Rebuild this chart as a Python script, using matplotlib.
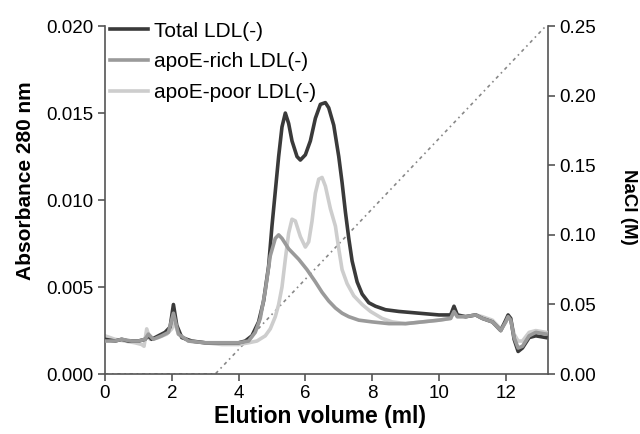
import matplotlib
matplotlib.use("Agg")
import matplotlib.pyplot as plt

# ---- data ----
total_x = [0, 0.3, 0.5, 0.7, 1.0, 1.2, 1.3, 1.4, 1.6, 1.8, 1.95, 2.05, 2.15, 2.3, 2.6, 3.0, 3.5, 4.0, 4.2, 4.4, 4.6,
           4.75, 4.9, 5.0, 5.1, 5.2, 5.3, 5.4, 5.5, 5.6, 5.75, 5.85, 6.0, 6.15, 6.3, 6.45, 6.6, 6.7, 6.85, 7.0, 7.1,
           7.2, 7.3, 7.4, 7.55, 7.7, 7.9, 8.1, 8.4, 8.8, 9.4, 10.0, 10.35, 10.45, 10.55, 10.8, 11.1, 11.3, 11.6,
           11.85, 12.0, 12.07, 12.15, 12.25, 12.37, 12.5, 12.7, 12.9, 13.2]
total_y = [0.0020, 0.0019, 0.0020, 0.0019, 0.0019, 0.0020, 0.0022, 0.0020, 0.0022, 0.0024, 0.0027, 0.0040, 0.0028,
           0.0021, 0.0019, 0.0018, 0.0018, 0.0018, 0.0019, 0.0022, 0.0030, 0.0042, 0.0062, 0.0085, 0.0105, 0.0125,
           0.0142, 0.0150, 0.0144, 0.0134, 0.0125, 0.0123, 0.0126, 0.0134, 0.0147, 0.0155, 0.0156, 0.0153, 0.0143,
           0.0125, 0.0110, 0.0093, 0.0078, 0.0065, 0.0053, 0.0046, 0.0041, 0.0039, 0.0037, 0.0036, 0.0035, 0.0034,
           0.0034, 0.0039, 0.0034, 0.0033, 0.0034, 0.0032, 0.0030, 0.0025, 0.0031, 0.0034, 0.0032, 0.0020, 0.0013,
           0.0015, 0.0021, 0.0022, 0.0021]

rich_x = [0, 0.3, 0.5, 0.8, 1.0, 1.2, 1.3, 1.45, 1.7, 1.9, 2.05, 2.2, 2.5, 3.0, 3.5, 4.0, 4.3, 4.5, 4.65, 4.8, 4.95,
          5.1, 5.2, 5.3, 5.5, 5.8, 6.05, 6.3, 6.5, 6.7, 6.9, 7.1, 7.3, 7.6, 8.0, 8.5, 9.0, 9.5, 10.0, 10.35, 10.45,
          10.55, 10.8, 11.1, 11.3, 11.6, 11.85, 12.0, 12.07, 12.15, 12.25, 12.37, 12.5, 12.7, 12.9, 13.2]
rich_y = [0.0019, 0.0019, 0.0020, 0.0019, 0.0019, 0.0020, 0.0023, 0.0020, 0.0022, 0.0024, 0.0035, 0.0023, 0.0019,
          0.0018, 0.0018, 0.0018, 0.0019, 0.0024, 0.0032, 0.0048, 0.0068, 0.0078, 0.0080, 0.0078, 0.0072, 0.0066,
          0.0060, 0.0053, 0.0047, 0.0042, 0.0038, 0.0035, 0.0033, 0.0031, 0.0030, 0.0029, 0.0029, 0.0030, 0.0031,
          0.0032, 0.0036, 0.0033, 0.0033, 0.0034, 0.0032, 0.0030, 0.0025, 0.0030, 0.0033, 0.0031, 0.0021, 0.0015,
          0.0016, 0.0022, 0.0024, 0.0023]

poor_x = [0, 0.3, 0.6, 0.9, 1.1, 1.17, 1.25, 1.35, 1.6, 1.85, 2.0, 2.08, 2.2, 2.5, 3.0, 3.5, 4.0, 4.3, 4.55, 4.8,
          4.95, 5.1, 5.2, 5.3, 5.4, 5.5, 5.6, 5.7, 5.85, 6.0, 6.1, 6.2, 6.3, 6.4, 6.5, 6.6, 6.75, 6.9, 7.0, 7.1,
          7.25, 7.45, 7.7, 7.95, 8.3, 8.6, 9.0, 9.5, 10.0, 10.35, 10.45, 10.55, 10.8, 11.1, 11.3, 11.6, 11.85, 12.0,
          12.07, 12.15, 12.25, 12.37, 12.5, 12.7, 12.9, 13.2]
poor_y = [0.0022, 0.0020, 0.0019, 0.0018, 0.0017, 0.0016, 0.0026, 0.0020, 0.0021, 0.0023, 0.0026, 0.0030, 0.0023,
          0.0019, 0.0018, 0.0017, 0.0017, 0.0018, 0.0019, 0.0022, 0.0026, 0.0033, 0.0040, 0.0050, 0.0066, 0.0081,
          0.0089, 0.0088, 0.0079, 0.0073, 0.0076, 0.0088, 0.0104, 0.0112, 0.0113, 0.0108, 0.0095, 0.0085, 0.0072,
          0.0060, 0.0052, 0.0045, 0.0040, 0.0036, 0.0032, 0.0030, 0.0029, 0.0030, 0.0031, 0.0032, 0.0036, 0.0033,
          0.0033, 0.0034, 0.0033, 0.0031, 0.0026, 0.0030, 0.0033, 0.0031, 0.0023, 0.0019, 0.0019, 0.0024, 0.0025,
          0.0024]

nacl_x = [0, 3.3, 13.2]
nacl_y = [0, 0, 0.25]

labels = ["Total LDL(-)", "apoE-rich LDL(-)", "apoE-poor LDL(-)"]
left_ticks = [0.000, 0.005, 0.010, 0.015, 0.020]
right_ticks = [0.00, 0.05, 0.10, 0.15, 0.20, 0.25]
x_ticks = [0, 2, 4, 6, 8, 10, 12]

plt.rcParams['font.family'] = ['Liberation Sans', 'DejaVu Sans']

fig = plt.figure(figsize=(6.4, 4.34), dpi=100)
ax = fig.add_axes([0.164, 0.138, 0.692, 0.802])
ax2 = ax.twinx()

spine_col = '#555555'
ax2.plot(nacl_x, nacl_y, color='#888888', lw=1.2, ls=(0, (2, 2.2, 1, 2.2)), zorder=1)
ax2.set_ylim(0, 0.25)

ax.set_zorder(ax2.get_zorder() + 1)
ax.patch.set_visible(False)

l1, = ax.plot(total_x, total_y, color='#3a3a3a', lw=2.6, label=labels[0], zorder=3)
l2, = ax.plot(rich_x, rich_y, color='#9a9a9a', lw=2.6, label=labels[1], zorder=4)
l3, = ax.plot(poor_x, poor_y, color='#cdcdcd', lw=2.6, label=labels[2], zorder=2)

ax.set_xlim(0, 13.26)
ax.set_ylim(0, 0.020)
ax.set_xticks(x_ticks)
ax.set_yticks(left_ticks)
ax.set_yticklabels([f"{v:.3f}" for v in left_ticks])
ax2.set_yticks(right_ticks)
ax2.set_yticklabels([f"{v:.2f}" for v in right_ticks])

for a in (ax, ax2):
    a.spines['top'].set_visible(False)
    for s in a.spines.values():
        s.set_color(spine_col)
        s.set_linewidth(1.2)
    a.tick_params(direction='out', length=5, width=1.2, color=spine_col, labelsize=13.5, pad=3)
ax.spines['right'].set_visible(False)
ax2.spines['left'].set_visible(False)
ax2.spines['bottom'].set_visible(False)

ax.set_xlabel("Elution volume (ml)", fontsize=16.5, fontweight='bold', labelpad=2)
ax.set_ylabel("Absorbance 280 nm", fontsize=15, fontweight='bold', labelpad=8)
ax2.set_ylabel("NaCl (M)", fontsize=13.5, fontweight='bold', rotation=-90, labelpad=30)
ax.xaxis.label.set_x(0.485)
ax.yaxis.label.set_y(0.555)
ax2.yaxis.label.set_y(0.48)

leg = ax.legend(handles=[l1, l2, l3], loc='upper left', bbox_to_anchor=(0.011, 1.013), frameon=False,
                fontsize=15, handlelength=1.83, handletextpad=0.3, labelspacing=0.56, borderpad=0,
                borderaxespad=0)

fig.savefig("out.png", dpi=100)
